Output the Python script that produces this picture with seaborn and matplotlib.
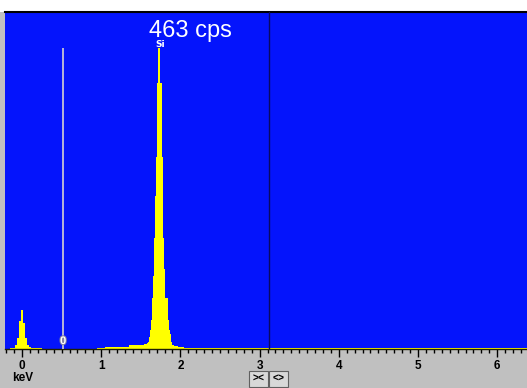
import numpy as np
import pandas as pd
import matplotlib
matplotlib.use("Agg")
import matplotlib.pyplot as plt
import matplotlib.patheffects as pe
from matplotlib.patches import Rectangle
import seaborn as sns

# EDS spectrum: channel centres (keV) and counts per channel
zero_peak_keV = [-0.2, -0.1, -0.075, -0.05, -0.025, 0.0, 0.025, 0.05, 0.075, 0.1, 0.125]
zero_peak_counts = [0, 1, 5, 15, 38, 54, 36, 15, 5, 3, 1]

low_bg_keV = [0.2, 0.3, 0.4, 0.5, 0.6, 0.7, 0.8, 0.9, 1.0, 1.1, 1.2, 1.3, 1.4, 1.5]
low_bg_counts = [1, 0, 0, 0, 0, 0, 0, 0, 2, 3, 3, 3, 5, 6]

si_peak_keV = [1.5775, 1.59, 1.6025, 1.615, 1.6275, 1.64, 1.6525, 1.665, 1.6775,
               1.69, 1.7025, 1.715, 1.7275, 1.74, 1.7525, 1.765, 1.7775, 1.79,
               1.8025, 1.815, 1.8275, 1.84, 1.8525, 1.865, 1.8775, 1.89, 1.9025,
               1.915, 1.9275, 1.94]
si_peak_counts = [7, 8, 10, 16, 26, 40, 70, 100, 153,
                  210, 264, 365, 413, 413, 365, 365, 264, 153,
                  110, 70, 70, 70, 40, 26, 20, 10, 6,
                  5, 4, 4]

high_bg_keV = [2.0, 2.1, 2.2, 2.3, 2.4, 2.5, 2.6, 2.7, 2.8, 2.9,
               3.0, 3.1, 3.2, 3.3, 3.4, 3.5, 3.6, 3.7, 3.8, 3.9,
               4.0, 4.1, 4.2, 4.3, 4.4, 4.5, 4.6, 4.7, 4.8, 4.9,
               5.0, 5.1, 5.2, 5.3, 5.4, 5.5, 5.6, 5.7, 5.8, 5.9,
               6.0, 6.1, 6.2, 6.3, 6.4]
high_bg_counts = [3, 2, 2, 1, 1, 1, 1, 1, 1, 1,
                  1, 1, 1, 1, 1, 1, 1, 2, 1, 1,
                  1, 2, 2, 1, 1, 2, 2, 1, 2, 2,
                  1, 2, 2, 2, 2, 1, 1, 1, 2, 2,
                  1, 1, 2, 1, 1]

full_scale = 463
rate_label = "463 cps"
peak_label = "Si"
peak_energy = 1.74
marker_keV = 0.52
marker_label = "0"
cursor_keV = 3.12
tick_keV = [0, 1, 2, 3, 4, 5, 6]
tick_labels = ["0", "1", "2", "3", "4", "5", "6"]

spectrum = pd.DataFrame({
    "keV": zero_peak_keV + low_bg_keV + si_peak_keV + high_bg_keV,
    "counts": zero_peak_counts + low_bg_counts + si_peak_counts + high_bg_counts,
})

# channel edges halfway between neighbouring centres
c = spectrum["keV"].to_numpy()
mid = (c[:-1] + c[1:]) / 2
edges = np.concatenate([[c[0] - (mid[0] - c[0])], mid, [c[-1] + (c[-1] - mid[-1])]]).tolist()

sns.set_theme(style="white")
plt.rcParams["font.family"] = ["Liberation Sans", "DejaVu Sans"]

W, H = 527, 388
fig = plt.figure(figsize=(W / 100, H / 100), dpi=100, facecolor="#c0c0c0")


def fx(px):
    return px / W


def fy(py):
    return 1 - py / H


# white strip across the top of the window
fig.add_artist(Rectangle((0, fy(12)), 1, 12 / H, transform=fig.transFigure,
                         facecolor="white", edgecolor="none", zorder=0))

ax = fig.add_axes([fx(5), fy(349), (527 - 5) / W, (349 - 12) / H])
ax.set_facecolor("#0414fc")

sns.histplot(data=spectrum, x="keV", weights="counts", bins=edges,
             element="step", fill=True, color="#ffff00", alpha=1,
             linewidth=0, ax=ax)

ax.set_xlim((5 - 22) / 79.2, (527 - 22) / 79.2)
ax.set_ylim(0, full_scale)

# energy marker and cursor lines
ax.vlines(marker_keV, 0, max(si_peak_counts), color="#c4c4d4", linewidth=1.3, zorder=3)
ax.text(marker_keV, 4, marker_label, ha="center", va="bottom", color="white",
        fontsize=8, fontweight="bold", zorder=4,
        path_effects=[pe.withStroke(linewidth=1.5, foreground="#8080a0")])
ax.axvline(cursor_keV, color="#0a0a60", linewidth=1.0, zorder=3)

ax.annotate(peak_label, xy=(peak_energy, max(si_peak_counts)), xytext=(0, 1.2),
            textcoords="offset points", ha="center", va="baseline",
            color="white", fontsize=6.5, fontweight="bold", family="DejaVu Sans")
ax.text((190 - 5) / 522, (349 - 37.5) / 337, rate_label, transform=ax.transAxes,
        ha="center", va="baseline", color="white", fontsize=17)

# axis styling
for side in ("left", "right"):
    ax.spines[side].set_visible(False)
ax.spines["top"].set_color("black")
ax.spines["top"].set_linewidth(1.5)
ax.spines["bottom"].set_color("#202000")
ax.spines["bottom"].set_linewidth(1.0)

ax.set_yticks([])
ax.set_xticks(tick_keV)
ax.set_xticklabels(tick_labels, fontsize=8.5, fontweight="bold")
ax.set_xticks(np.arange(-2, 64) / 10, minor=True)
ax.tick_params(axis="x", which="major", direction="out", length=6, width=1,
               color="black", pad=2, labelcolor="black", bottom=True)
ax.tick_params(axis="x", which="minor", direction="out", length=3, width=1,
               color="black", bottom=True)
ax.set_xlabel("")
ax.set_ylabel("")

fig.text(fx(12), fy(381), "keV", ha="left", va="baseline", fontsize=8.5,
         fontweight="bold", color="black")

# zoom buttons
for x0, label in ((249, "><"), (269, "<>")):
    fig.add_artist(Rectangle((fx(x0), fy(387)), 19 / W, 16 / H,
                             transform=fig.transFigure, facecolor="#d8d8d8",
                             edgecolor="#606060", linewidth=0.8))
    fig.text(fx(x0 + 9.5), fy(379), label, ha="center", va="center",
             fontsize=7.5, fontweight="bold", color="black")

fig.savefig("out.png", dpi=100, facecolor=fig.get_facecolor())
